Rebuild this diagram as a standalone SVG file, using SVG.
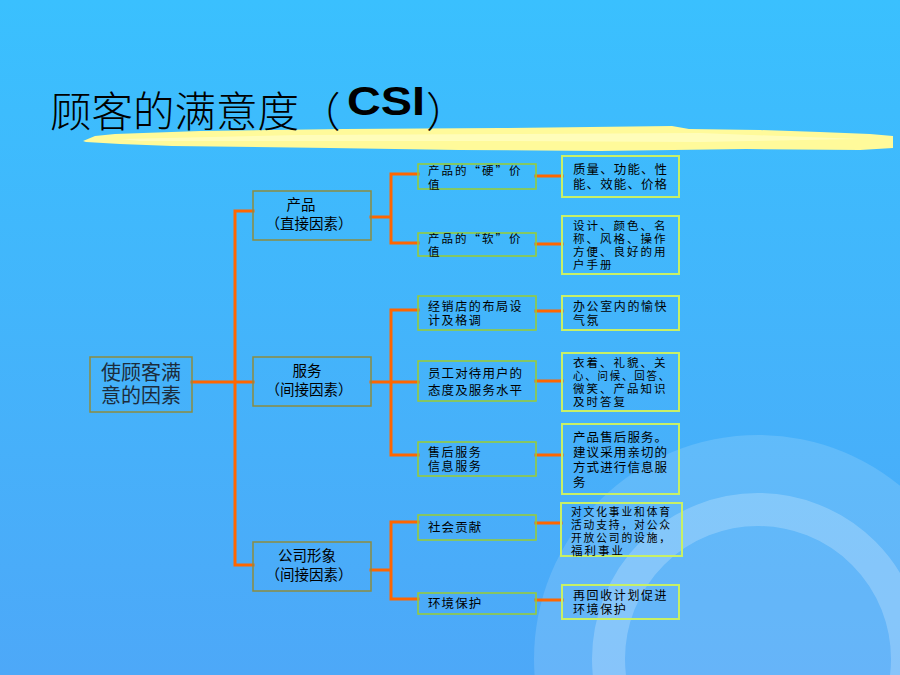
<svg xmlns="http://www.w3.org/2000/svg" width="900" height="675" viewBox="0 0 900 675">
<defs>
<linearGradient id="bg" x1="0" y1="0" x2="0" y2="1">
<stop offset="0" stop-color="#3AC0FE"/>
<stop offset="1" stop-color="#4DA8F8"/>
</linearGradient>
<style>
.t{font-family:"Noto Sans CJK SC","Liberation Sans",sans-serif;fill:#000;}
.a{font-size:12.5px;letter-spacing:1.1px;}
.b{font-size:12px;letter-spacing:1.6px;}
.x{font-size:11.5px;letter-spacing:2px;}
.m{font-size:14.5px;}
.root{font-size:20px;fill:#1c2c3c;}
.l0{fill:none;stroke:#8C8C40;stroke-width:1.5;}
.l1{fill:none;stroke:#8C8C40;stroke-width:1.5;}
.l2{fill:none;stroke:#9ACD32;stroke-width:1.5;}
.l3{fill:none;stroke:#C8F066;stroke-width:2;}
.c{fill:none;stroke:#FF6600;stroke-width:3;stroke-linecap:square;}
</style>
</defs>
<rect x="0" y="0" width="900" height="675" fill="url(#bg)"/>
<circle cx="758" cy="659" r="224" fill="#FFFFFF" fill-opacity="0.14"/>
<circle cx="758" cy="659" r="149.5" fill="none" stroke="#FFFFFF" stroke-opacity="0.22" stroke-width="33"/>

<path d="M83,141 L95,136 L115,134 L200,131 L344,129 L500,128 L672,126 L689,129 L760,130 L820,132 L870,134 L893,136 L893,148 L860,150 L746,149 L600,151 L459,150 L330,148 L172,146 L120,144 L86,142 Z" fill="#FFFA9A"/>
<path d="M120,139 L300,135 L520,134 L700,133 L860,139 L700,142 L500,141 L300,141 L140,141 Z" fill="#FFFFD0" fill-opacity="0.6"/>

<g id="title">
<text class="t" x="50" y="127" font-size="41.5" font-weight="300">顾客的满意度（</text>
<text x="347" y="115" font-family="Liberation Sans, Arial, sans-serif" font-weight="bold" font-size="40" textLength="78" lengthAdjust="spacingAndGlyphs" fill="#000">CSI</text>
<text class="t" x="426" y="127" font-size="41.5" font-weight="300">）</text>
</g>

<g id="connectors">
<path class="c" d="M192,382 H235 M235,211 V565 M235,211 H253 M235,382 H253 M235,565 H253"/>
<path class="c" d="M371,217 H391 M391,174 V243 M391,174 H418 M391,243 H418"/>
<path class="c" d="M536,176 H562 M536,244 H562"/>
<path class="c" d="M371,382 H391 M391,310 V455 M391,310 H418 M391,382 H418 M391,455 H418"/>
<path class="c" d="M536,311 H562 M536,381 H562 M536,455 H562"/>
<path class="c" d="M371,570 H391 M391,522 V599 M391,522 H418 M391,599 H418"/>
<path class="c" d="M536,523 H561 M536,600 H562"/>
</g>

<g id="root">
<rect class="l0" x="90" y="357" width="102" height="55"/>
<text class="t root" x="101" y="380">使顾客满</text>
<text class="t root" x="101" y="403">意的因素</text>
</g>

<g id="n-product">
<rect class="l1" x="253" y="191" width="118" height="49"/>
<text class="t m" x="301" y="210" text-anchor="middle">产品</text>
<text class="t m" x="309" y="229" text-anchor="middle">（直接因素）</text>
</g>
<g id="n-service">
<rect class="l1" x="253" y="357" width="118" height="49"/>
<text class="t m" x="307" y="376" text-anchor="middle">服务</text>
<text class="t m" x="309" y="395" text-anchor="middle">（间接因素）</text>
</g>
<g id="n-image">
<rect class="l1" x="253" y="542" width="118" height="49"/>
<text class="t m" x="307" y="561" text-anchor="middle">公司形象</text>
<text class="t m" x="309" y="580" text-anchor="middle">（间接因素）</text>
</g>

<g id="n-hard">
<rect class="l2" x="418" y="164" width="118" height="25"/>
<text class="t x" x="428" y="175">产品的“硬”价</text>
<text class="t x" x="428" y="188.5">值</text>
</g>
<g id="n-hard-d">
<rect class="l3" x="562" y="156" width="117" height="41"/>
<text class="t a" x="573" y="174">质量、功能、性</text>
<text class="t a" x="573" y="189">能、效能、价格</text>
</g>
<g id="n-soft">
<rect class="l2" x="418" y="233" width="118" height="23"/>
<text class="t x" x="428" y="243">产品的“软”价</text>
<text class="t x" x="428" y="256">值</text>
</g>
<g id="n-soft-d">
<rect class="l3" x="562" y="216" width="117" height="58"/>
<text class="t x" x="573" y="229.5">设计、颜色、名</text>
<text class="t x" x="573" y="242.5">称、风格、操作</text>
<text class="t x" x="573" y="255.5">方便、良好的用</text>
<text class="t x" x="573" y="268.5">户手册</text>
</g>

<g id="n-store">
<rect class="l2" x="418" y="296" width="118" height="34"/>
<text class="t b" x="428" y="310.5">经销店的布局设</text>
<text class="t b" x="428" y="324.5">计及格调</text>
</g>
<g id="n-store-d">
<rect class="l3" x="562" y="296" width="117" height="34"/>
<text class="t b" x="573" y="310.5">办公室内的愉快</text>
<text class="t b" x="573" y="324.5">气氛</text>
</g>
<g id="n-staff">
<rect class="l2" x="418" y="361" width="118" height="40"/>
<text class="t a" x="428" y="378">员工对待用户的</text>
<text class="t a" x="428" y="395">态度及服务水平</text>
</g>
<g id="n-staff-d">
<rect class="l3" x="562" y="353" width="117" height="58"/>
<text class="t x" x="573" y="366.5">衣着、礼貌、关</text>
<text class="t x" x="573" y="379.5" textLength="98" lengthAdjust="spacingAndGlyphs">心、问候、回答、</text>
<text class="t x" x="573" y="392.5">微笑、产品知识</text>
<text class="t x" x="573" y="405.5">及时答复</text>
</g>
<g id="n-after">
<rect class="l2" x="418" y="442" width="118" height="34"/>
<text class="t b" x="428" y="456.5">售后服务</text>
<text class="t b" x="428" y="470.5">信息服务</text>
</g>
<g id="n-after-d">
<rect class="l3" x="562" y="424" width="117" height="70"/>
<text class="t a" x="573" y="442">产品售后服务。</text>
<text class="t a" x="573" y="457">建议采用亲切的</text>
<text class="t a" x="573" y="472">方式进行信息服</text>
<text class="t a" x="573" y="487">务</text>
</g>

<g id="n-social">
<rect class="l2" x="418" y="515" width="118" height="25"/>
<text class="t a" x="428" y="532">社会贡献</text>
</g>
<g id="n-social-d">
<rect class="l3" x="561" y="503" width="121" height="53"/>
<text class="t x" x="571" y="515.5" textLength="101" lengthAdjust="spacingAndGlyphs">对文化事业和体育</text>
<text class="t x" x="571" y="528.5" textLength="101" lengthAdjust="spacingAndGlyphs">活动支持，对公众</text>
<text class="t x" x="571" y="541.5" textLength="101" lengthAdjust="spacingAndGlyphs">开放公司的设施，</text>
<text class="t x" x="571" y="554.5">福利事业</text>
</g>
<g id="n-env">
<rect class="l2" x="418" y="593" width="118" height="21"/>
<text class="t a" x="428" y="608">环境保护</text>
</g>
<g id="n-env-d">
<rect class="l3" x="562" y="585" width="117" height="34"/>
<text class="t b" x="573" y="599.5">再回收计划促进</text>
<text class="t b" x="573" y="613.5">环境保护</text>
</g>
</svg>
